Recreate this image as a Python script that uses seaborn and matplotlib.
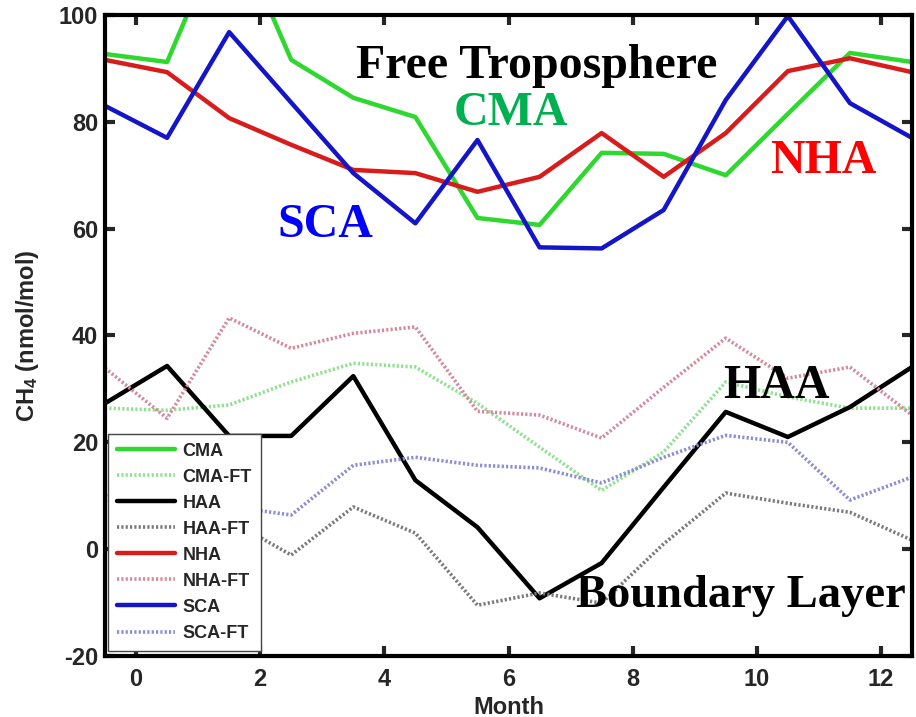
import numpy as np
import pandas as pd
import matplotlib
matplotlib.use("Agg")
import matplotlib.pyplot as plt
import seaborn as sns

# Monthly mean CH4 enhancement (nmol/mol), plotted at month mid-points
months = [-0.5, 0.5, 1.5, 2.5, 3.5, 4.5, 5.5, 6.5, 7.5, 8.5, 9.5, 10.5, 11.5, 12.5]

cma = [92.7, 91.2, 118.5, 91.6, 84.5, 80.9, 62.0, 60.7, 74.2, 74.0, 70.0, 81.5, 92.9, 91.2]
cma_ft = [26.4, 26.0, 27.0, 31.3, 34.8, 34.1, 27.3, 19.1, 11.0, 18.2, 31.3, 28.5, 26.4, 26.4]
haa = [27.3, 34.3, 21.2, 21.2, 32.4, 12.9, 4.1, -9.2, -2.6, 11.6, 25.7, 21.0, 26.6, 34.1]
haa_ft = [10.0, 6.0, 5.5, -1.1, 7.9, 3.0, -10.5, -8.2, -10.1, 1.0, 10.5, 8.6, 6.9, 1.7]
nha = [91.6, 89.3, 80.7, 75.7, 71.0, 70.4, 66.9, 69.7, 77.9, 69.7, 77.9, 89.5, 91.9, 89.3]
nha_ft = [33.9, 24.5, 43.3, 37.6, 40.4, 41.6, 25.8, 25.1, 20.8, 30.3, 39.5, 32.0, 34.1, 25.1]
sca = [83.0, 77.0, 96.8, 83.6, 70.4, 61.0, 76.6, 56.5, 56.3, 63.5, 84.1, 99.8, 83.5, 77.0]
sca_ft = [9.0, 8.0, 8.0, 6.4, 15.7, 17.2, 15.7, 15.2, 12.4, 17.2, 21.3, 20.0, 9.2, 13.5]

series_names = ["CMA", "CMA-FT", "HAA", "HAA-FT", "NHA", "NHA-FT", "SCA", "SCA-FT"]
series_values = [cma, cma_ft, haa, haa_ft, nha, nha_ft, sca, sca_ft]

x_ticks = [0, 2, 4, 6, 8, 10, 12]
y_ticks = [-20, 0, 20, 40, 60, 80, 100]

# Long-form table for seaborn
df = pd.DataFrame({
    "Month": np.tile(months, len(series_names)),
    "CH4": np.concatenate(series_values),
    "Site": np.repeat(series_names, len(months)),
})

line_colors = {
    "CMA": "#2ed82e", "CMA-FT": "#8fe08f",
    "HAA": "#000000", "HAA-FT": "#7a7a7a",
    "NHA": "#d81c1c", "NHA-FT": "#d48a9c",
    "SCA": "#1414c8", "SCA-FT": "#8c8cd2",
}

sns.set_style("ticks")
plt.rcParams["font.family"] = ["Liberation Sans", "DejaVu Sans"]
plt.rcParams["font.weight"] = "bold"
plt.rcParams["axes.unicode_minus"] = False
plt.rcParams["mathtext.fontset"] = "custom"
plt.rcParams["mathtext.bf"] = "Liberation Sans:bold"
plt.rcParams["mathtext.rm"] = "Liberation Sans:bold"
plt.rcParams["mathtext.default"] = "bf"

fig = plt.figure(figsize=(9.16, 7.17), dpi=100)
ax = fig.add_axes([105 / 916, 1 - 656 / 717, 807 / 916, 641 / 717])

for name in series_names:
    sub = df[df["Site"] == name]
    dotted = name.endswith("-FT")
    sns.lineplot(
        data=sub, x="Month", y="CH4", ax=ax, label=name,
        color=line_colors[name],
        linewidth=2.6 if dotted else 3.2,
        linestyle=(0, (0.6, 0.6)) if dotted else "-",
        estimator=None, sort=False,
    )

ax.set_xlim(-0.5, 12.5)
ax.set_ylim(-20, 100)
ax.set_xticks(x_ticks)
ax.set_yticks(y_ticks)
ax.tick_params(direction="in", length=7, width=3, top=True, right=True,
               labelsize=17)
ax.tick_params(axis="x", pad=9)
ax.tick_params(axis="y", pad=5)
for lab in ax.get_xticklabels() + ax.get_yticklabels():
    lab.set_fontweight("bold")
for sp in ax.spines.values():
    sp.set_linewidth(3)
    sp.set_color("black")

ax.set_xlabel("Month", fontsize=17, fontweight="bold", labelpad=3)
ax.set_ylabel("CH$_4$ (nmol/mol)", fontsize=17, fontweight="bold", labelpad=13)

leg = ax.legend(loc="lower left", bbox_to_anchor=(0.004, 0.008), fontsize=13,
                frameon=True, fancybox=False, framealpha=1, edgecolor="#444444",
                handlelength=3.2, handletextpad=0.4, labelspacing=0.5,
                borderpad=0.5, borderaxespad=0)
leg.get_frame().set_linewidth(1.0)
for t in leg.get_texts():
    t.set_fontweight("bold")

serif = ["Liberation Serif", "DejaVu Serif"]
notes = [
    ("Free Troposphere", 3.55, 88.2, "black", 34.5),
    ("CMA", 5.12, 79.4, "#00b050", 34.5),
    ("NHA", 10.21, 70.4, "#ff0000", 34.5),
    ("SCA", 2.27, 58.4, "#0000ff", 34.5),
    ("HAA", 9.46, 28.3, "black", 34.5),
    ("Boundary Layer", 7.09, -10.9, "black", 33.5),
]
for text, tx, ty, col, fs in notes:
    ax.text(tx, ty, text, color=col, fontsize=fs, fontweight="bold",
            family=serif, ha="left", va="baseline", clip_on=False, zorder=10)

fig.savefig("out.png", dpi=100)
